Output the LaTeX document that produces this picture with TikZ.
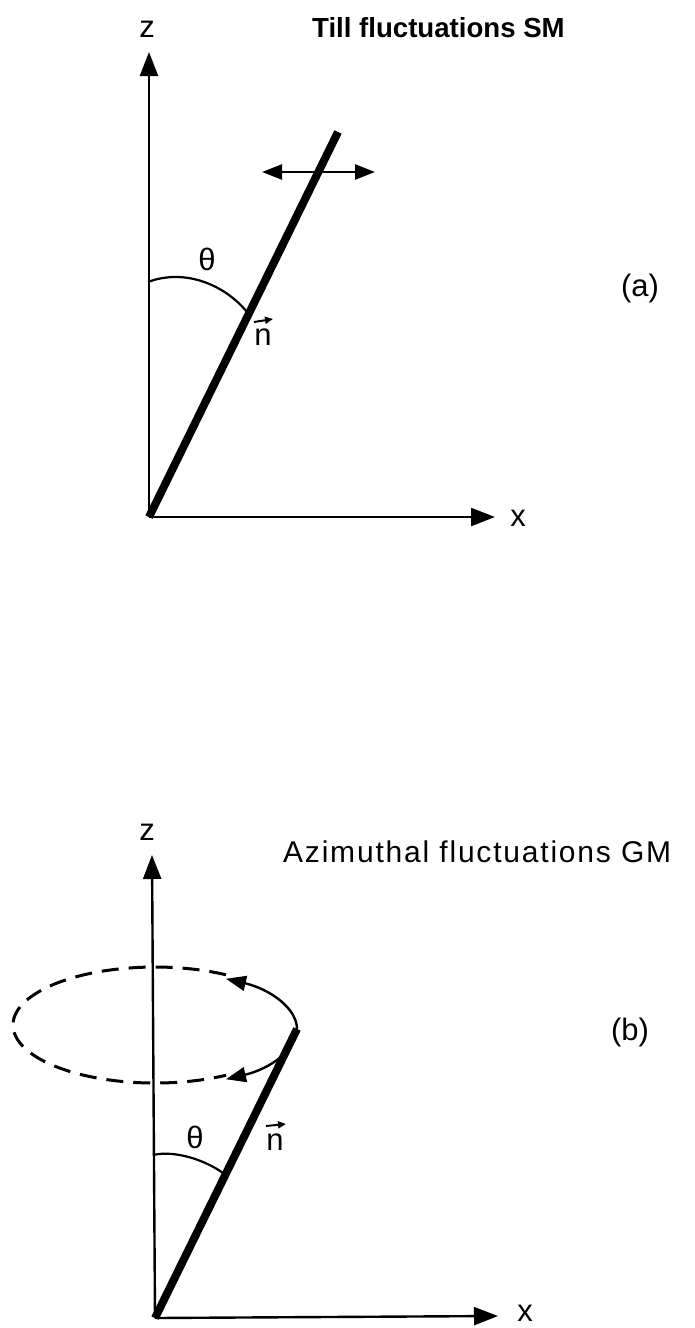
\documentclass[tikz,border=0pt]{standalone}
\usepackage{fontspec}
\setmainfont{Liberation Sans}
\newfontfamily\spacedfont[LetterSpace=6]{Liberation Sans}
\usetikzlibrary{arrows.meta}
\begin{document}
\begin{tikzpicture}[x=1pt,y=-1pt,
  axis/.style={line width=2.4pt,-{Triangle[length=24pt,width=18pt]}},
  rod/.style={line width=8pt,line cap=butt},
  thin/.style={line width=2.2pt},
  lbl/.style={font=\fontsize{31}{33}\selectfont,inner sep=0pt},
  ttl/.style={inner sep=0pt,anchor=base west},
  vecarrow/.style={line width=2pt,-{Triangle[length=8pt,width=7pt]}},
  circarrow/.style={line width=2.4pt,-{Triangle[length=20pt,width=15pt]}},
  dashline/.style={line width=3pt,dash pattern=on 17pt off 10pt}]
\useasboundingbox (0,0) rectangle (695,1328);
% ---------------- panel (a)
\coordinate (Oa) at (149,517);
\coordinate (Za) at (149,52);
\coordinate (Xa) at (495,517);
\coordinate (Ra) at (338,132);
\coordinate (Da1) at (262,172);
\coordinate (Da2) at (375,172);
\coordinate (Aa1) at (148,282);
\coordinate (Aa2) at (247,312);
\draw[axis] (Oa) -- (Za);
\draw[axis] (Oa) -- (Xa);
\draw[rod] (Oa) -- (Ra);
\draw[line width=2.2pt,{Triangle[length=20pt,width=15pt]}-{Triangle[length=20pt,width=15pt]}] (Da1) -- (Da2);
\draw[thin] (Aa1) .. controls (185,268) and (225,285) .. (Aa2);
\node[lbl] (za) at (147,29) {z};
\node[lbl] (xa) at (518,518) {x};
\node[lbl] (tha) at (207,259) {θ};
\node[lbl] (na) at (263,337) {n};
\coordinate (va1) at (254,322);
\coordinate (va2) at (273,319);
\draw[vecarrow] (va1) -- (va2);
\node[lbl] (la) at (640,288) {(a)};
\node[ttl,font=\bfseries\fontsize{27.6}{30}\selectfont] (ta) at (312,37) {Till fluctuations SM};
% ---------------- panel (b)
\coordinate (Ob) at (155,1318);
\coordinate (Zb) at (152,855);
\coordinate (Xb) at (498,1316);
\coordinate (Rb) at (297,1029);
\coordinate (Ab1) at (153,1155);
\coordinate (Ab2) at (223,1173);
\coordinate (P1) at (226,974.8);
\draw[dashline] (P1) arc[start angle=-60,end angle=-300,x radius=142,y radius=58];
\draw[circarrow] (Rb) arc[start angle=0,end angle=-60,x radius=142,y radius=58];
\draw[circarrow] (Rb) arc[start angle=0,end angle=60,x radius=142,y radius=58];
\draw[axis] (Ob) -- (Zb);
\draw[axis] (Ob) -- (Xb);
\draw[rod] (Ob) -- (Rb);
\draw[thin] (Ab1) .. controls (175,1150) and (205,1160) .. (Ab2);
\node[lbl] (zb) at (147,832) {z};
\node[lbl] (xb) at (525,1313) {x};
\node[lbl] (thb) at (195,1137) {θ};
\node[lbl] (nb) at (275,1142) {n};
\coordinate (vb1) at (266,1126);
\coordinate (vb2) at (286,1124);
\draw[vecarrow] (vb1) -- (vb2);
\node[lbl] (lb) at (630,1032) {(b)};
\node[ttl,font=\spacedfont\fontsize{30}{32}\selectfont] (tb) at (283,862) {Azimuthal fluctuations GM};
\end{tikzpicture}
\end{document}
